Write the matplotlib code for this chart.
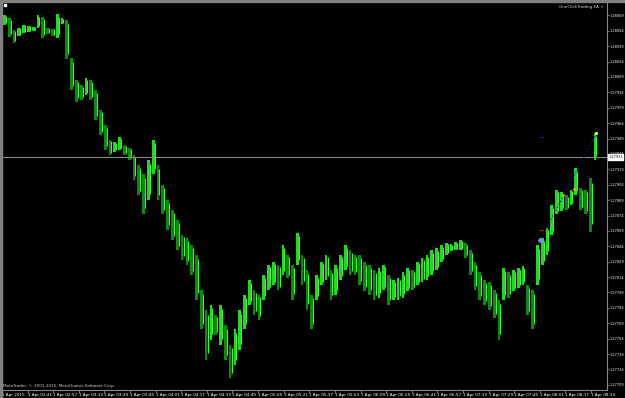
import numpy as np
import matplotlib.pyplot as plt
from matplotlib.patches import Rectangle

# 3-minute bars (high / low)
highs = [1.28069, 1.28066, 1.28055, 1.28057, 1.28060, 1.28059, 1.28058, 1.28069, 1.28067, 1.28057,
         1.28056, 1.28070, 1.28066, 1.28064, 1.28027, 1.28006, 1.28001, 1.28008, 1.28006, 1.27996,
         1.27977, 1.27962, 1.27948, 1.27946, 1.27950, 1.27943, 1.27940, 1.27933, 1.27923, 1.27914,
         1.27928, 1.27948, 1.27923, 1.27904, 1.27889, 1.27879, 1.27870, 1.27855, 1.27852, 1.27845,
         1.27836, 1.27801, 1.27782, 1.27787, 1.27777, 1.27787, 1.27767, 1.27748, 1.27763, 1.27782,
         1.27797, 1.27811, 1.27801, 1.27797, 1.27816, 1.27826, 1.27829, 1.27826, 1.27845, 1.27836,
         1.27826, 1.27857, 1.27836, 1.27821, 1.27797, 1.27816, 1.27829, 1.27836, 1.27821, 1.27826,
         1.27836, 1.27845, 1.27840, 1.27836, 1.27836, 1.27829, 1.27826, 1.27821, 1.27823, 1.27826,
         1.27816, 1.27811, 1.27813, 1.27819, 1.27823, 1.27821, 1.27829, 1.27833, 1.27836, 1.27840,
         1.27842, 1.27845, 1.27847, 1.27846, 1.27848, 1.27850, 1.27847, 1.27840, 1.27829, 1.27819,
         1.27811, 1.27809, 1.27801, 1.27792, 1.27823, 1.27819, 1.27821, 1.27823, 1.27825, 1.27806,
         1.27801, 1.27845, 1.27852, 1.27862, 1.27884, 1.27899, 1.27897, 1.27894, 1.27899, 1.27920,
         1.27901, 1.27899, 1.27911, 1.27954]
lows = [1.28060, 1.28048, 1.28042, 1.28049, 1.28052, 1.28053, 1.28054, 1.28057, 1.28047, 1.28051,
        1.28049, 1.28047, 1.28061, 1.28026, 1.27996, 1.27985, 1.27987, 1.27991, 1.27987, 1.27967,
        1.27952, 1.27938, 1.27933, 1.27936, 1.27938, 1.27933, 1.27928, 1.27909, 1.27894, 1.27875,
        1.27889, 1.27914, 1.27889, 1.27875, 1.27860, 1.27850, 1.27840, 1.27831, 1.27826, 1.27816,
        1.27792, 1.27763, 1.27733, 1.27753, 1.27758, 1.27748, 1.27733, 1.27716, 1.27728, 1.27743,
        1.27763, 1.27787, 1.27777, 1.27772, 1.27792, 1.27801, 1.27806, 1.27801, 1.27816, 1.27813,
        1.27792, 1.27826, 1.27806, 1.27782, 1.27763, 1.27792, 1.27806, 1.27811, 1.27792, 1.27797,
        1.27811, 1.27821, 1.27816, 1.27816, 1.27806, 1.27800, 1.27797, 1.27792, 1.27794, 1.27801,
        1.27787, 1.27792, 1.27792, 1.27794, 1.27800, 1.27801, 1.27806, 1.27809, 1.27811, 1.27816,
        1.27821, 1.27829, 1.27836, 1.27839, 1.27840, 1.27840, 1.27833, 1.27816, 1.27801, 1.27792,
        1.27787, 1.27782, 1.27774, 1.27753, 1.27792, 1.27794, 1.27800, 1.27803, 1.27806, 1.27777,
        1.27763, 1.27806, 1.27826, 1.27836, 1.27855, 1.27875, 1.27878, 1.27879, 1.27884, 1.27894,
        1.27879, 1.27875, 1.27858, 1.27928]
current_price = 1.27931

x_labels = ["1 Apr 2015", "1 Apr 02:41", "1 Apr 02:57", "1 Apr 03:13", "1 Apr 03:29", "1 Apr 03:45",
            "1 Apr 04:01", "1 Apr 04:17", "1 Apr 04:33", "1 Apr 04:49", "1 Apr 05:05", "1 Apr 05:21",
            "1 Apr 05:37", "1 Apr 05:53", "1 Apr 06:09", "1 Apr 06:25", "1 Apr 06:41", "1 Apr 06:57",
            "1 Apr 07:13", "1 Apr 07:29", "1 Apr 07:45", "1 Apr 08:01", "1 Apr 08:17", "1 Apr 08:33"]
y_labels = ["1.28069", "1.28054", "1.28039", "1.28024", "1.28009", "1.27994", "1.27979", "1.27964",
            "1.27949", "1.27934", "1.27919", "1.27904", "1.27889", "1.27874", "1.27859", "1.27844",
            "1.27829", "1.27814", "1.27799", "1.27784", "1.27769", "1.27754", "1.27739", "1.27724",
            "1.27709"]

# EA objects on the chart (minutes from start, price)
trend_line = ([336.3, 371.3], [1.27850, 1.27954])
order_marks = [(336.3, 1.27850, "#7090ff", "D", 2.2), (337.0, 1.27860, "#d02020", "_", 2.5),
               (337.5, 1.27950, "#2020a0", "_", 2.5), (371.3, 1.27954, "#ffff40", "s", 1.3),
               (350.6, 1.27894, "#e0a020", "s", 1.0), (357.5, 1.27900, "#e0c020", "s", 1.0)]

bar_minutes = 3
t = np.arange(len(highs)) * bar_minutes + 1.5
highs = np.array(highs)
lows = np.array(lows)
mids = (highs + lows) / 2
up = np.r_[True, mids[1:] >= mids[:-1]]
colors = np.where(up, "#22d822", "#0a8c0a")

fig = plt.figure(figsize=(6.25, 3.98), dpi=100, facecolor="black")
ax = fig.add_axes([2 / 625, 8 / 398, 605 / 625, 388 / 398])
ax.set_facecolor("black")

ax.bar(t, highs - lows, bottom=lows, width=1.7, color=colors, linewidth=0)
ax.vlines(t + 0.9, lows + (highs - lows) * 0.15, highs - (highs - lows) * 0.1,
          color="#44ff44", lw=0.7)

ax.axhline(current_price, color="#8a8a8a", lw=0.8)
ax.plot(trend_line[0], trend_line[1], color="#1a1a90", ls=":", lw=0.9)
for mx, my, mc, mk, ms in order_marks:
    ax.plot(mx, my, marker=mk, color=mc, ms=ms, mew=0.8)

ax.set_xlim(0, 378)
ax.set_ylim(1.27704, 1.28082)

ax.set_xticks(np.arange(len(x_labels)) * 16, x_labels)
for lbl in ax.get_xticklabels():
    lbl.set_horizontalalignment("left")
ax.tick_params(axis="x", colors="#b0b0b0", labelcolor="white", length=2, width=0.5,
               pad=0.5, labelsize=3)

ax.yaxis.tick_right()
y_vals = [1.28069 - 0.00015 * k for k in range(len(y_labels))]
ax.set_yticks(y_vals, y_labels)
ax.tick_params(axis="y", colors="#b0b0b0", labelcolor="white", length=1.5, width=0.5,
               pad=0.5, labelsize=2.5)

ax.text(1.002, current_price, "%.5f" % current_price, transform=ax.get_yaxis_transform(),
        fontsize=2.5, color="black", va="center", ha="left",
        bbox=dict(boxstyle="square,pad=0.15", fc="white", ec="white"))

for side in ["top", "left"]:
    ax.spines[side].set_visible(False)
for side in ["right", "bottom"]:
    ax.spines[side].set_color("#8a8a8a")
    ax.spines[side].set_linewidth(0.8)

ax.text(0.002, 0.004, "MetaTrader, \u00a9 2001-2015, MetaQuotes Software Corp.",
        transform=ax.transAxes, fontsize=3, color="#d0d0d0", va="bottom", ha="left")
ax.text(0.996, 0.992, "OneClickTrading EA \u00a9", transform=ax.transAxes,
        fontsize=3, color="#d0d0d0", va="top", ha="right")

# window frame
fig.patches.append(Rectangle((0, 396 / 398), 1, 2 / 398, transform=fig.transFigure,
                             color="#808080", zorder=5))
fig.patches.append(Rectangle((0, 0), 2 / 625, 1, transform=fig.transFigure,
                             color="#808080", zorder=5))
fig.patches.append(Rectangle((4 / 625, 392 / 398), 2 / 625, 2 / 398, transform=fig.transFigure,
                             color="white", zorder=5))

fig.savefig("out.png", dpi=100, facecolor="black")
